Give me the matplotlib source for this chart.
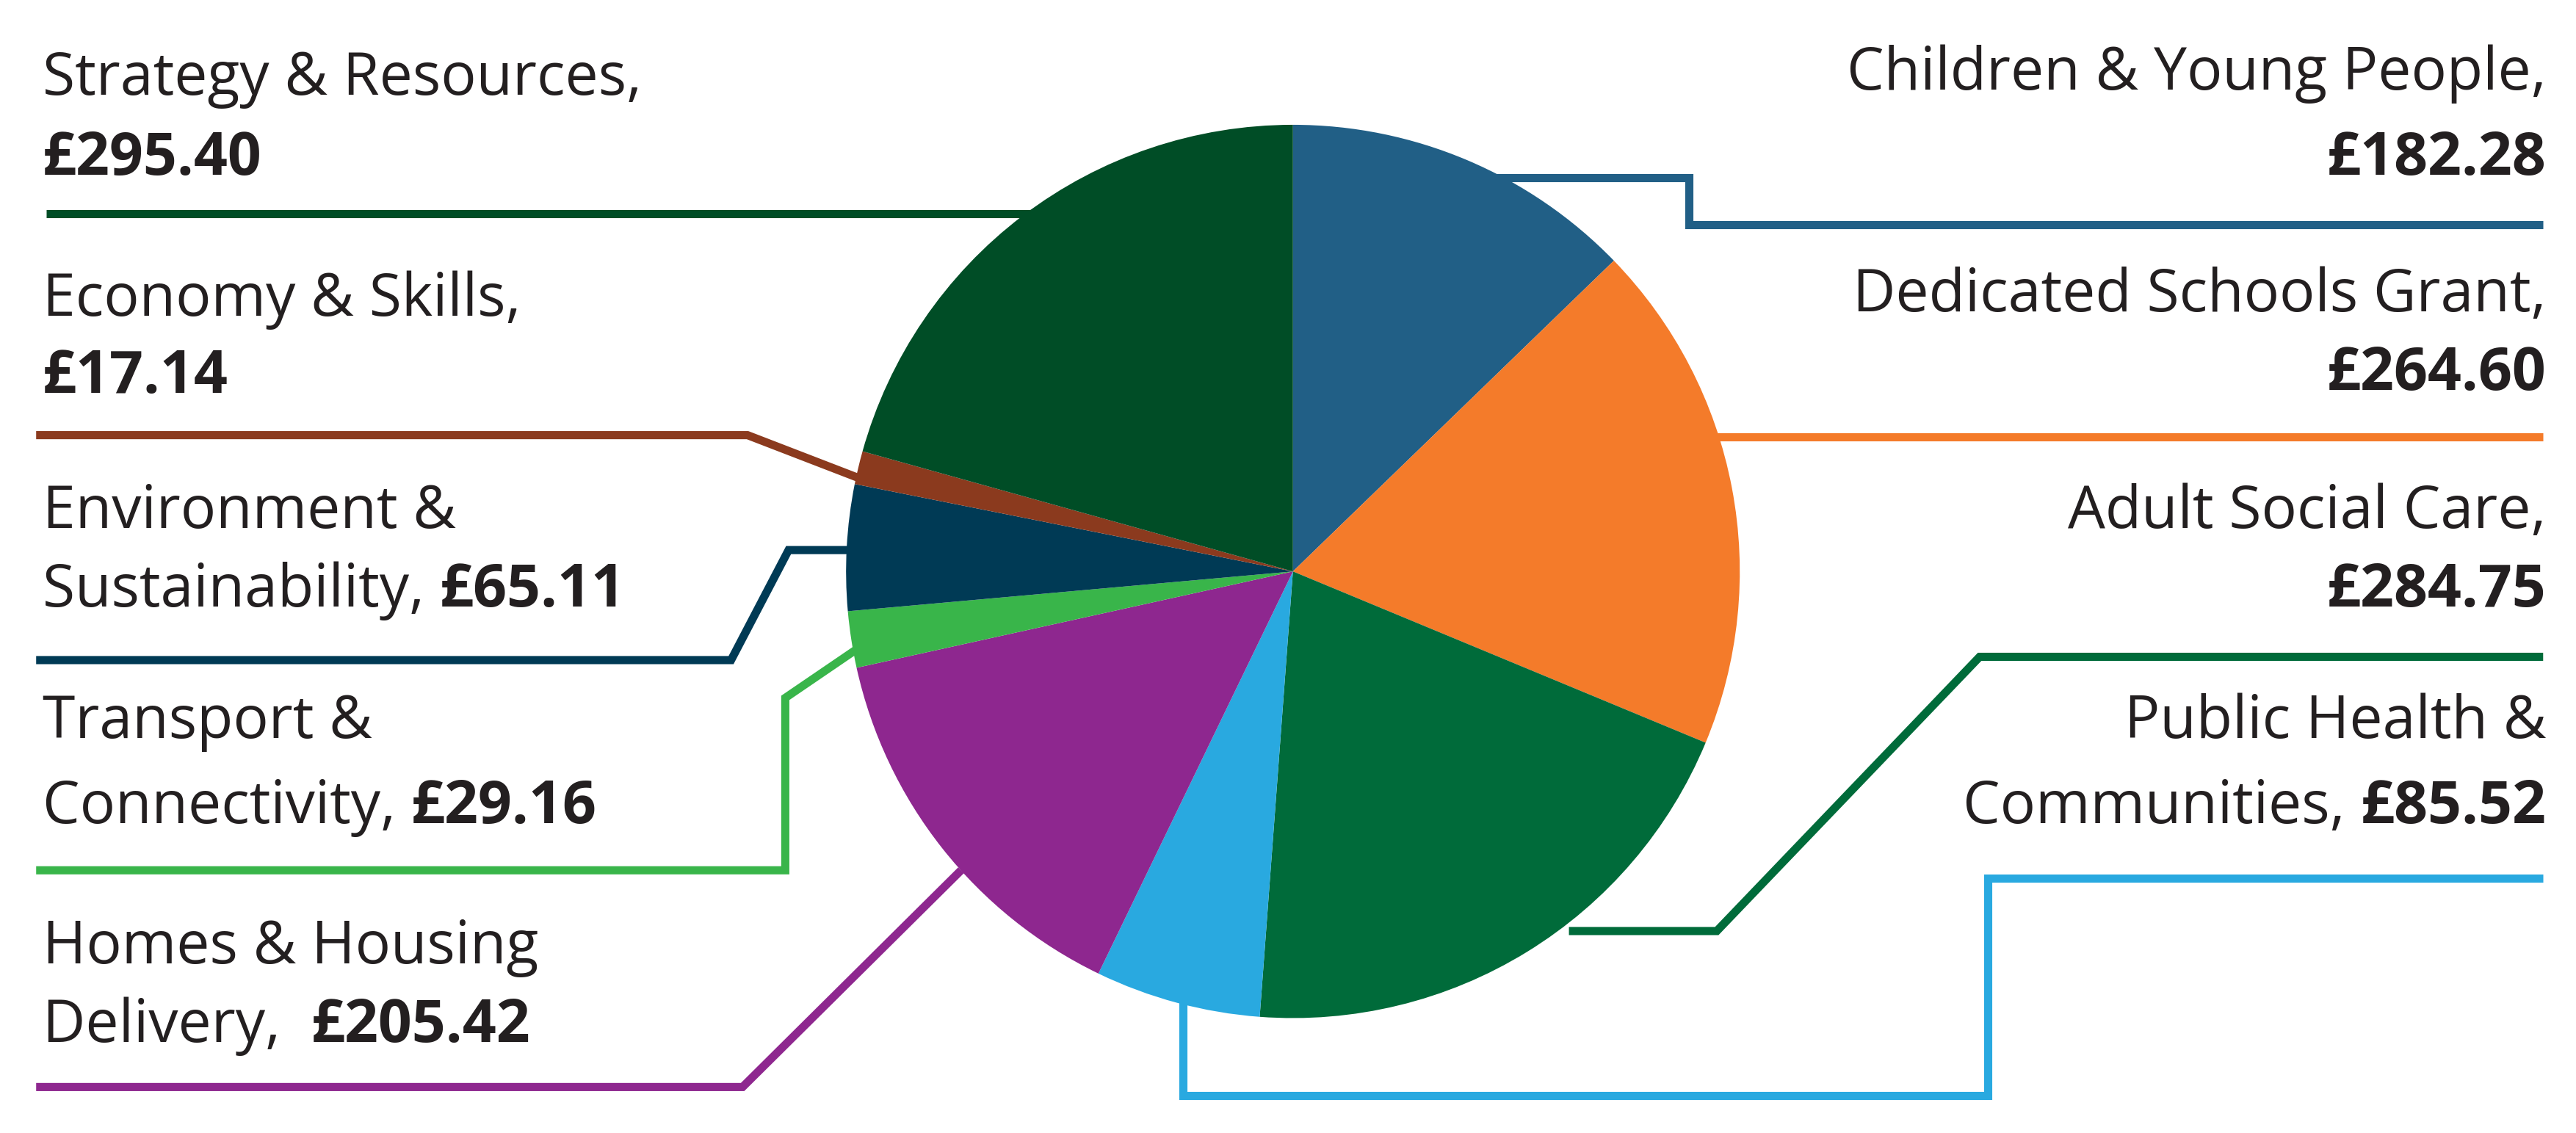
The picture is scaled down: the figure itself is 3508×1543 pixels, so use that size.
import matplotlib
matplotlib.use("Agg")
import matplotlib.pyplot as plt

# slices, clockwise from 12 o'clock
labels = ["Children & Young People", "Dedicated Schools Grant", "Adult Social Care",
          "Public Health & Communities", "Homes & Housing Delivery", "Transport & Connectivity",
          "Environment & Sustainability", "Economy & Skills", "Strategy & Resources"]
values = [182.28, 264.60, 284.75, 85.52, 205.42, 29.16, 65.11, 17.14, 295.40]
colors = ["#215F86", "#F47B2A", "#006B3A", "#29A9E0", "#8E278F",
          "#39B54A", "#003A55", "#8B3A1E", "#004D26"]

W, H = 1568, 690
FS = 58
FONT = "Open Sans"

fig = plt.figure(figsize=(35.08, 15.43), dpi=100)
ax = fig.add_axes([0, 0, 1, 1])
ax.set_xlim(0, W)
ax.set_ylim(H, 0)
ax.axis("off")

ax.pie(values, colors=colors, center=(787, 348), radius=272,
       startangle=-90, counterclock=True, frame=True,
       wedgeprops=dict(linewidth=0))
ax.set_xlim(0, W)
ax.set_ylim(H, 0)
ax.set_aspect("auto")
ax.axis("off")

# leader lines (label side -> slice)
leaders = {
    "Strategy & Resources": [(28, 130), (628, 130)],
    "Children & Young People": [(905, 108), (1028, 108), (1028, 137), (1548, 137)],
    "Economy & Skills": [(22, 265), (455, 265), (525, 292)],
    "Environment & Sustainability": [(22, 402), (445, 402), (480, 335), (517, 335)],
    "Transport & Connectivity": [(22, 530), (478, 530), (478, 425), (522, 395)],
    "Homes & Housing Delivery": [(22, 662), (452, 662), (585, 530)],
    "Dedicated Schools Grant": [(1040, 266), (1548, 266)],
    "Adult Social Care": [(955, 567), (1045, 567), (1205, 400), (1548, 400)],
    "Public Health & Communities": [(720, 565), (720, 667), (1210, 667), (1210, 535), (1548, 535)],
}
for lab, col in zip(labels, colors):
    xs, ys = zip(*leaders[lab])
    ax.plot(xs, ys, color=col, lw=8, solid_capstyle="butt", solid_joinstyle="miter", zorder=1)

fig.canvas.draw()
renderer = fig.canvas.get_renderer()
inv = ax.transData.inverted()


def width_of(t):
    bb = t.get_window_extent(renderer)
    p0 = inv.transform((bb.x0, bb.y0))
    p1 = inv.transform((bb.x1, bb.y0))
    return p1[0] - p0[0]


def line(x, y, normal, bold, ha):
    kw = dict(fontsize=FS, family=FONT, va="center", color="#231F20")
    if ha == "left":
        t = ax.text(x, y, normal, ha="left", **kw)
        if bold:
            ax.text(x + width_of(t), y, bold, ha="left", fontweight="bold", **kw)
    else:
        if bold:
            t = ax.text(x, y, bold, ha="right", fontweight="bold", **kw)
            x = x - width_of(t)
        if normal:
            ax.text(x, y, normal, ha="right", **kw)


L, R = 26, 1550
line(L, 48, "Strategy & Resources,", "", "left")
line(L, 97, "", "£295.40", "left") if False else ax.text(L, 97, "£295.40", fontsize=FS, family=FONT, fontweight="bold", va="center", color="#231F20")
line(L, 183, "Economy & Skills,", "", "left")
ax.text(L, 230, "£17.14", fontsize=FS, family=FONT, fontweight="bold", va="center", color="#231F20")
line(L, 312, "Environment &", "", "left")
line(L, 360, "Sustainability, ", "£65.11", "left")
line(L, 440, "Transport &", "", "left")
line(L, 492, "Connectivity, ", "£29.16", "left")
line(L, 577, "Homes & Housing", "", "left")
line(L, 625, "Delivery,  ", "£205.42", "left")

line(R, 45, "Children & Young People,", "", "right")
line(R, 97, "", "£182.28", "right")
line(R, 180, "Dedicated Schools Grant,", "", "right")
line(R, 228, "", "£264.60", "right")
line(R, 312, "Adult Social Care,", "", "right")
line(R, 360, "", "£284.75", "right")
line(R, 440, "Public Health &", "", "right")
line(R, 492, "Communities, ", "£85.52", "right")

fig.savefig("out.png", dpi=100, facecolor="white")
